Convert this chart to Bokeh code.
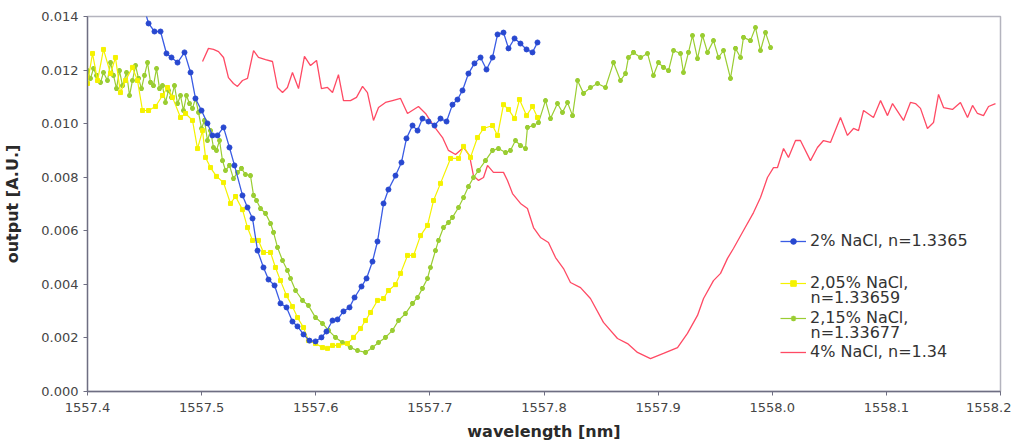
from bokeh.plotting import figure
from bokeh.models import Range1d, FixedTicker, PrintfTickFormatter, Legend, LegendItem, Label
from bokeh.embed import file_html
from bokeh.resources import INLINE

# ---------------- data ----------------
x_ticks = [1557.4, 1557.5, 1557.6, 1557.7, 1557.8, 1557.9, 1558.0, 1558.1, 1558.2]
y_ticks = [0.000, 0.002, 0.004, 0.006, 0.008, 0.010, 0.012, 0.014]

labels_first = ["2% NaCl, n=1.3365", "2,05% NaCl,", "2,15% NaCl,", "4% NaCl, n=1.34"]
labels_second = ["", "n=1.33659", "n=1.33677", ""]

wl_blue = [1557.4482, 1557.4535, 1557.4587, 1557.4640, 1557.4692, 1557.4736, 1557.4789, 1557.4850,
           1557.4903, 1557.4946, 1557.4999, 1557.5051, 1557.5095, 1557.5139, 1557.5192, 1557.5244,
           1557.5288, 1557.5358, 1557.5402, 1557.5446, 1557.5490, 1557.5542, 1557.5586, 1557.5639,
           1557.5691, 1557.5744, 1557.5796, 1557.5840, 1557.5893, 1557.5945, 1557.5998, 1557.6050,
           1557.6094, 1557.6147, 1557.6191, 1557.6243, 1557.6296, 1557.6340, 1557.6401, 1557.6445,
           1557.6497, 1557.6541, 1557.6594, 1557.6637, 1557.6699, 1557.6751, 1557.6795, 1557.6848,
           1557.6892, 1557.6935, 1557.6988, 1557.7041, 1557.7093, 1557.7146, 1557.7198, 1557.7242,
           1557.7286, 1557.7338, 1557.7391, 1557.7444, 1557.7496, 1557.7549, 1557.7593, 1557.7645,
           1557.7689, 1557.7742, 1557.7794, 1557.7847, 1557.7899, 1557.7943]
out_blue = [0.01452, 0.01374, 0.01344, 0.01344, 0.01262, 0.01247, 0.01228, 0.01266,
            0.01191, 0.01094, 0.01049, 0.01001, 0.00956, 0.00956, 0.00986, 0.00911,
            0.00844, 0.00732, 0.00687, 0.00646, 0.00526, 0.00463, 0.00418, 0.00396,
            0.00329, 0.00314, 0.00261, 0.00243, 0.00213, 0.00190, 0.00187, 0.00202,
            0.00224, 0.00265, 0.00269, 0.00299, 0.00314, 0.00351, 0.00392, 0.00422,
            0.00485, 0.00560, 0.00702, 0.00754, 0.00806, 0.00855, 0.00945, 0.00993,
            0.00974, 0.01019, 0.01008, 0.00993, 0.01019, 0.01008, 0.01071, 0.01090,
            0.01124, 0.01187, 0.01225, 0.01247, 0.01202, 0.01247, 0.01333, 0.01340,
            0.01281, 0.01318, 0.01299, 0.01277, 0.01266, 0.01303]

wl_yellow = [1557.4000, 1557.4044, 1557.4088, 1557.4140, 1557.4202, 1557.4245, 1557.4289, 1557.4333,
             1557.4394, 1557.4438, 1557.4482, 1557.4535, 1557.4596, 1557.4657, 1557.4701, 1557.4745,
             1557.4815, 1557.4859, 1557.4920, 1557.4964, 1557.5008, 1557.5034, 1557.5078, 1557.5130,
             1557.5192, 1557.5253, 1557.5297, 1557.5358, 1557.5402, 1557.5446, 1557.5498, 1557.5542,
             1557.5604, 1557.5647, 1557.5691, 1557.5744, 1557.5796, 1557.5840, 1557.5893, 1557.5936,
             1557.5998, 1557.6059, 1557.6103, 1557.6147, 1557.6199, 1557.6278, 1557.6331, 1557.6392,
             1557.6436, 1557.6480, 1557.6541, 1557.6594, 1557.6637, 1557.6699, 1557.6743, 1557.6804,
             1557.6857, 1557.6918, 1557.6979, 1557.7032, 1557.7093, 1557.7181, 1557.7251, 1557.7295,
             1557.7356, 1557.7417, 1557.7470, 1557.7549, 1557.7593, 1557.7645, 1557.7689, 1557.7742,
             1557.7785, 1557.7847, 1557.7899, 1557.7943]
out_yellow = [0.01150, 0.01262, 0.01161, 0.01277, 0.01187, 0.01247, 0.01116, 0.01161,
              0.01210, 0.01161, 0.01049, 0.01049, 0.01064, 0.01105, 0.01135, 0.01098,
              0.01023, 0.01038, 0.01012, 0.00907, 0.00974, 0.00874, 0.00836, 0.00803,
              0.00780, 0.00702, 0.00728, 0.00679, 0.00612, 0.00564, 0.00564, 0.00519,
              0.00519, 0.00463, 0.00414, 0.00358, 0.00317, 0.00276, 0.00239, 0.00190,
              0.00179, 0.00164, 0.00161, 0.00172, 0.00172, 0.00179, 0.00202, 0.00235,
              0.00265, 0.00295, 0.00340, 0.00347, 0.00377, 0.00399, 0.00441, 0.00508,
              0.00508, 0.00582, 0.00620, 0.00713, 0.00777, 0.00870, 0.00870, 0.00915,
              0.00874, 0.00948, 0.00982, 0.00993, 0.00956, 0.01071, 0.01053, 0.01019,
              0.01090, 0.01030, 0.01064, 0.01023]

wl_green = [1557.4000, 1557.4026, 1557.4053, 1557.4079, 1557.4114, 1557.4140, 1557.4175, 1557.4202,
            1557.4228, 1557.4254, 1557.4280, 1557.4307, 1557.4342, 1557.4368, 1557.4394, 1557.4421,
            1557.4447, 1557.4473, 1557.4499, 1557.4526, 1557.4552, 1557.4578, 1557.4605, 1557.4631,
            1557.4657, 1557.4683, 1557.4710, 1557.4736, 1557.4762, 1557.4789, 1557.4815, 1557.4841,
            1557.4867, 1557.4894, 1557.4920, 1557.4946, 1557.4973, 1557.4999, 1557.5025, 1557.5051,
            1557.5078, 1557.5104, 1557.5130, 1557.5157, 1557.5183, 1557.5209, 1557.5244, 1557.5279,
            1557.5314, 1557.5349, 1557.5384, 1557.5428, 1557.5455, 1557.5481, 1557.5516, 1557.5560,
            1557.5604, 1557.5630, 1557.5665, 1557.5709, 1557.5752, 1557.5779, 1557.5823, 1557.5884,
            1557.5936, 1557.5998, 1557.6059, 1557.6112, 1557.6173, 1557.6234, 1557.6304, 1557.6366,
            1557.6436, 1557.6497, 1557.6550, 1557.6611, 1557.6672, 1557.6725, 1557.6786, 1557.6848,
            1557.6892, 1557.6935, 1557.6979, 1557.7005, 1557.7049, 1557.7076, 1557.7119, 1557.7163,
            1557.7198, 1557.7251, 1557.7295, 1557.7338, 1557.7382, 1557.7426, 1557.7487, 1557.7549,
            1557.7601, 1557.7663, 1557.7706, 1557.7750, 1557.7794, 1557.7838, 1557.7855, 1557.7908,
            1557.7952, 1557.8013, 1557.8057, 1557.8118, 1557.8162, 1557.8206, 1557.8250, 1557.8294,
            1557.8346, 1557.8407, 1557.8469, 1557.8539, 1557.8609, 1557.8670, 1557.8714, 1557.8740,
            1557.8784, 1557.8846, 1557.8907, 1557.8959, 1557.9003, 1557.9047, 1557.9091, 1557.9135,
            1557.9196, 1557.9222, 1557.9266, 1557.9301, 1557.9345, 1557.9389, 1557.9433, 1557.9485,
            1557.9529, 1557.9573, 1557.9634, 1557.9678, 1557.9722, 1557.9748, 1557.9809, 1557.9853,
            1557.9897, 1557.9941, 1557.9985]
out_green = [0.01198, 0.01169, 0.01206, 0.01180, 0.01154, 0.01191, 0.01161, 0.01228,
             0.01180, 0.01131, 0.01198, 0.01142, 0.01191, 0.01105, 0.01161, 0.01217,
             0.01169, 0.01131, 0.01180, 0.01228, 0.01154, 0.01142, 0.01206, 0.01131,
             0.01142, 0.01079, 0.01124, 0.01098, 0.01142, 0.01075, 0.01105, 0.01049,
             0.01105, 0.01075, 0.01057, 0.01094, 0.01042, 0.00982, 0.01012, 0.00937,
             0.00974, 0.00911, 0.00900, 0.00937, 0.00862, 0.00825, 0.00844, 0.00795,
             0.00818, 0.00833, 0.00810, 0.00806, 0.00732, 0.00713, 0.00683, 0.00665,
             0.00627, 0.00594, 0.00538, 0.00489, 0.00452, 0.00422, 0.00377, 0.00340,
             0.00321, 0.00276, 0.00254, 0.00228, 0.00202, 0.00183, 0.00164, 0.00153,
             0.00146, 0.00164, 0.00183, 0.00202, 0.00228, 0.00265, 0.00291, 0.00329,
             0.00351, 0.00385, 0.00422, 0.00463, 0.00526, 0.00564, 0.00612, 0.00631,
             0.00650, 0.00687, 0.00724, 0.00765, 0.00799, 0.00825, 0.00862, 0.00900,
             0.00907, 0.00892, 0.00900, 0.00937, 0.00918, 0.00907, 0.00986, 0.00993,
             0.01004, 0.01086, 0.01019, 0.01075, 0.01042, 0.01079, 0.01030, 0.01161,
             0.01113, 0.01135, 0.01150, 0.01135, 0.01228, 0.01161, 0.01187, 0.01247,
             0.01266, 0.01247, 0.01262, 0.01180, 0.01228, 0.01210, 0.01198, 0.01273,
             0.01262, 0.01191, 0.01266, 0.01329, 0.01243, 0.01329, 0.01266, 0.01310,
             0.01247, 0.01273, 0.01169, 0.01281, 0.01247, 0.01322, 0.01310, 0.01359,
             0.01273, 0.01340, 0.01284]

wl_red = [1557.5008, 1557.5060, 1557.5104, 1557.5148, 1557.5192, 1557.5235, 1557.5279, 1557.5314,
          1557.5358, 1557.5402, 1557.5455, 1557.5498, 1557.5560, 1557.5621, 1557.5665, 1557.5709,
          1557.5752, 1557.5796, 1557.5849, 1557.5901, 1557.5954, 1557.6007, 1557.6050, 1557.6103,
          1557.6147, 1557.6199, 1557.6243, 1557.6304, 1557.6357, 1557.6410, 1557.6453, 1557.6506,
          1557.6550, 1557.6611, 1557.6672, 1557.6743, 1557.6804, 1557.6900, 1557.6962, 1557.7032,
          1557.7111, 1557.7163, 1557.7225, 1557.7295, 1557.7347, 1557.7382, 1557.7426, 1557.7470,
          1557.7505, 1557.7557, 1557.7645, 1557.7680, 1557.7724, 1557.7794, 1557.7855, 1557.7908,
          1557.7969, 1557.8039, 1557.8101, 1557.8171, 1557.8232, 1557.8320, 1557.8407, 1557.8521,
          1557.8644, 1557.8732, 1557.8819, 1557.8933, 1557.9047, 1557.9170, 1557.9257, 1557.9345,
          1557.9398, 1557.9485, 1557.9547, 1557.9608, 1557.9660, 1557.9748, 1557.9836, 1557.9897,
          1557.9958, 1558.0011, 1558.0046, 1558.0099, 1558.0142, 1558.0204, 1558.0247, 1558.0335,
          1558.0396, 1558.0449, 1558.0510, 1558.0598, 1558.0659, 1558.0712, 1558.0756, 1558.0800,
          1558.0887, 1558.0949, 1558.1010, 1558.1054, 1558.1150, 1558.1211, 1558.1255, 1558.1299,
          1558.1360, 1558.1413, 1558.1457, 1558.1501, 1558.1579, 1558.1649, 1558.1711, 1558.1755,
          1558.1798, 1558.1851, 1558.1895, 1558.1956]
out_red = [0.01232, 0.01281, 0.01277, 0.01269, 0.01247, 0.01172, 0.01150, 0.01139,
           0.01161, 0.01169, 0.01273, 0.01247, 0.01239, 0.01232, 0.01135, 0.01116,
           0.01135, 0.01191, 0.01131, 0.01251, 0.01217, 0.01236, 0.01131, 0.01135,
           0.01116, 0.01183, 0.01086, 0.01086, 0.01098, 0.01139, 0.01116, 0.01012,
           0.01060, 0.01079, 0.01086, 0.01094, 0.01038, 0.01064, 0.01038, 0.00993,
           0.00948, 0.00900, 0.00885, 0.00911, 0.00881, 0.00806, 0.00788, 0.00799,
           0.00844, 0.00818, 0.00818, 0.00788, 0.00739, 0.00702, 0.00683, 0.00612,
           0.00575, 0.00556, 0.00500, 0.00459, 0.00407, 0.00388, 0.00347, 0.00258,
           0.00198, 0.00179, 0.00146, 0.00123, 0.00142, 0.00164, 0.00217, 0.00284,
           0.00347, 0.00414, 0.00441, 0.00497, 0.00534, 0.00601, 0.00668, 0.00724,
           0.00799, 0.00836, 0.00836, 0.00907, 0.00874, 0.00937, 0.00937, 0.00862,
           0.00911, 0.00937, 0.00930, 0.01023, 0.00956, 0.00982, 0.00974, 0.01049,
           0.01023, 0.01086, 0.01030, 0.01075, 0.01012, 0.01079, 0.01075, 0.01057,
           0.00982, 0.01004, 0.01109, 0.01060, 0.01053, 0.01079, 0.01023, 0.01068,
           0.01038, 0.01030, 0.01064, 0.01075]

# ---------------- figure ----------------
FONT = "DejaVu Sans"

p = figure(width=1011, height=443, output_backend="svg", toolbar_location=None,
           x_range=Range1d(x_ticks[0], x_ticks[-1]), y_range=Range1d(y_ticks[0], y_ticks[-1]),
           min_border_left=87, min_border_right=11, min_border_top=16, min_border_bottom=52)
p.grid.visible = False
p.outline_line_color = "#B4B4BE"
p.outline_line_width = 1.5
p.background_fill_color = "white"
p.border_fill_color = "white"

for ax in (p.xaxis[0], p.yaxis[0]):
    ax.axis_line_color = "#6E6E82"
    ax.axis_line_width = 1.3
    ax.major_tick_line_color = "#6E6E82"
    ax.major_tick_out = 4
    ax.major_tick_in = 0
    ax.minor_tick_line_color = None
    ax.major_label_text_font = FONT
    ax.major_label_text_font_size = "13px"
    ax.major_label_text_color = "#454545"
    ax.axis_label_text_font = FONT
    ax.axis_label_text_font_style = "bold"
    ax.axis_label_text_font_size = "16px"
    ax.axis_label_text_color = "#2a2a2a"

p.xaxis.ticker = FixedTicker(ticks=x_ticks)
p.yaxis.ticker = FixedTicker(ticks=y_ticks)
p.xaxis.formatter = PrintfTickFormatter(format="%.1f")
p.yaxis.formatter = PrintfTickFormatter(format="%.3f")
p.xaxis.axis_label = "wavelength [nm]"
p.yaxis.axis_label = "output [A.U.]"
p.xaxis.major_label_standoff = 7
p.xaxis.axis_label_standoff = 7
p.yaxis.axis_label_standoff = 16

c_blue, c_yellow, c_green, c_red = "#3a5ce4", "#F5F200", "#9ACD32", "#FF4A64"

r_red = p.line(wl_red, out_red, line_color=c_red, line_width=1.3)

g_line = p.line(wl_green, out_green, line_color=c_green, line_width=1.2)
g_pts = p.scatter(wl_green, out_green, marker="asterisk", size=5, line_color=c_green, line_width=1.6)

y_line = p.line(wl_yellow, out_yellow, line_color=c_yellow, line_width=1.2)
y_pts = p.scatter(wl_yellow, out_yellow, marker="square", size=4, line_color=c_yellow, fill_color=c_yellow)

b_line = p.line(wl_blue, out_blue, line_color=c_blue, line_width=1.3)
b_pts = p.scatter(wl_blue, out_blue, marker="circle", size=5, line_color="#2848D0", fill_color="#2848D0")

# legend: one Legend per entry so the rows can sit where the original puts them
legend_kw = dict(padding=0, margin=0, spacing=0, glyph_width=26, glyph_height=14, label_height=14,
                 label_standoff=4, label_text_font=FONT, label_text_font_size="16px",
                 label_text_color="#333333", border_line_alpha=0, background_fill_alpha=0)
entry_renderers = [[b_line, b_pts], [y_line, y_pts], [g_line, g_pts], [r_red]]
entry_loc_y = [141, 99, 64, 30]          # legend box bottom, px above the frame bottom
for lab, rends, ly in zip(labels_first, entry_renderers, entry_loc_y):
    p.add_layout(Legend(items=[LegendItem(label=lab, renderers=rends)], location=(693, ly), **legend_kw))

for lab2, ly in zip(labels_second, entry_loc_y):
    if lab2:
        p.add_layout(Label(x=723, y=ly - 5, x_units="screen", y_units="screen", text=lab2,
                           text_font=FONT, text_font_size="16px", text_color="#333333",
                           text_baseline="middle"))

open("out.html", "w").write(file_html(p, INLINE))
